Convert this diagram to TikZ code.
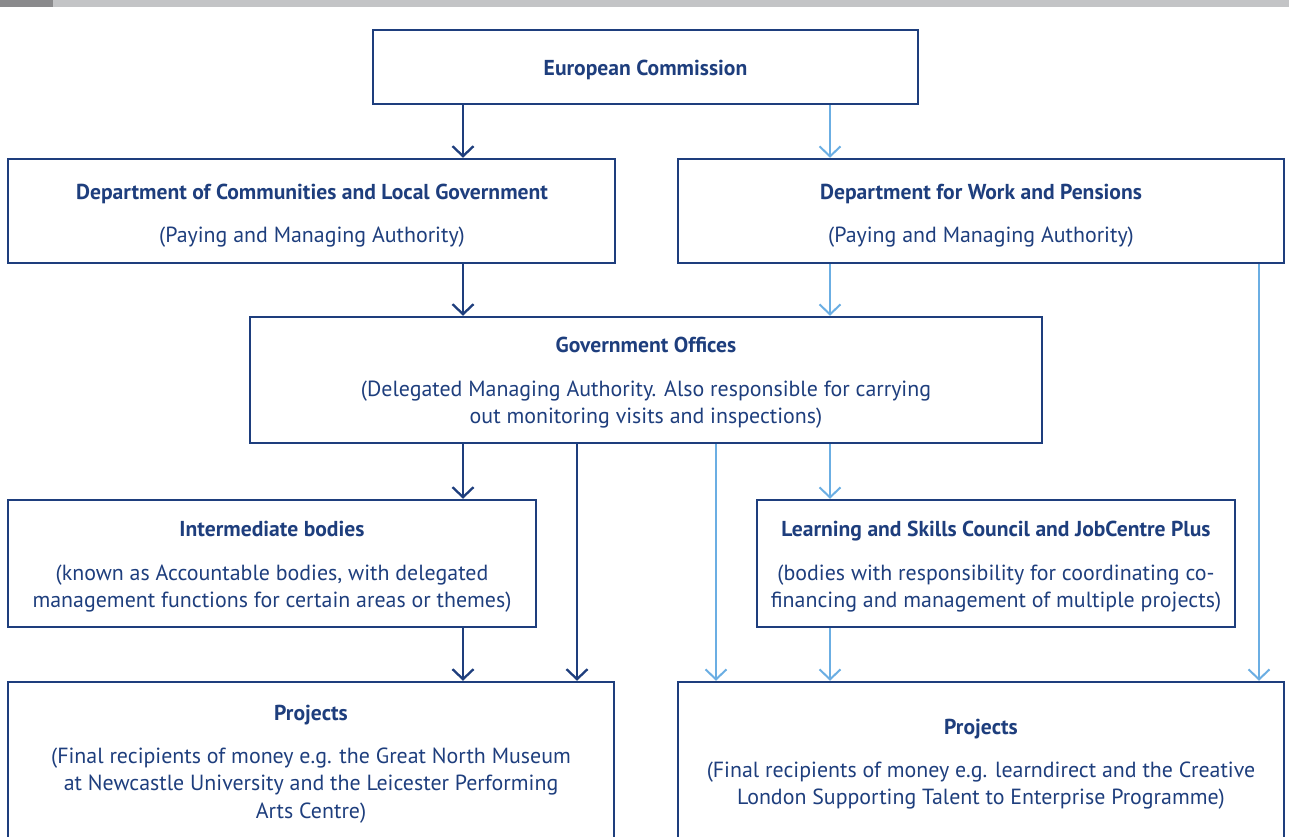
\documentclass[tikz,border=0pt]{standalone}
\usepackage{fontspec}
\setmainfont{PT Sans}
\usetikzlibrary{arrows.meta}
\definecolor{navy}{RGB}{30,62,125}
\definecolor{skyline}{RGB}{107,174,227}
\definecolor{bardark}{RGB}{138,138,140}
\definecolor{barlight}{RGB}{195,196,198}
\tikzset{
  box/.style={draw=navy, line width=2.5pt, inner sep=0pt, fill=none},
  hd/.style={text=navy, anchor=base, inner sep=0pt, font=\fontsize{21.6}{26}\selectfont\bfseries},
  tx/.style={text=navy, anchor=base, inner sep=0pt, font=\fontsize{21.9}{26}\selectfont},
  darr/.style={draw=navy, line width=2.3pt, -{Straight Barb[length=10pt,width=21pt,line width=2.3pt]}},
  larr/.style={draw=skyline, line width=2pt, -{Straight Barb[length=10pt,width=21pt,line width=2pt]}},
}
\begin{document}
\begin{tikzpicture}[x=1pt,y=-1pt]
\useasboundingbox (0,0) rectangle (1289,837);
\clip (0,0) rectangle (1289,837);
% header strip
\fill[bardark] (0,0) rectangle (53,7);
\fill[barlight] (53,0) rectangle (1289,7);

% boxes
\node[box, minimum width=545pt, minimum height=74pt] (ec) at (645.5,67) {};
\node[box, minimum width=607pt, minimum height=104pt] (dclg) at (311.5,211) {};
\node[box, minimum width=606pt, minimum height=104pt] (dwp) at (981,211) {};
\node[box, minimum width=792pt, minimum height=126pt] (gov) at (646,380) {};
\node[box, minimum width=528pt, minimum height=127pt] (ib) at (272,563.5) {};
\node[box, minimum width=478pt, minimum height=127pt] (lsc) at (996,563.5) {};
\node[box, minimum width=606pt, minimum height=188pt] (pl) at (311,776) {};
\node[box, minimum width=606pt, minimum height=188pt] (pr) at (981,776) {};

% texts
\node[hd] (ect) at (645.5,76) {European Commission};

\node[hd] (dclgt) at (312,199) {Department of Communities and Local Government};
\node[tx] (dclgs) at (312,242) {(Paying and Managing Authority)};

\node[hd] (dwpt) at (981,199) {Department for Work and Pensions};
\node[tx] (dwps) at (981,242) {(Paying and Managing Authority)};

\node[hd] (govt) at (646,352) {Government Offices};
\node[tx] (govs1) at (646,396) {(Delegated Managing Authority. Also responsible for carrying};
\node[tx] (govs2) at (646,423) {out monitoring visits and inspections)};

\node[hd] (ibt) at (272,536) {Intermediate bodies};
\node[tx] (ibs1) at (272,580) {(known as Accountable bodies, with delegated};
\node[tx] (ibs2) at (272,607) {management functions for certain areas or themes)};

\node[hd] (lsct) at (996,536) {Learning and Skills Council and JobCentre Plus};
\node[tx] (lscs1) at (996,580) {(bodies with responsibility for coordinating co-};
\node[tx] (lscs2) at (996,607) {financing and management of multiple projects)};

\node[hd] (plt) at (311,720) {Projects};
\node[tx] (pls1) at (311,763) {(Final recipients of money e.g. the Great North Museum};
\node[tx] (pls2) at (311,790) {at Newcastle University and the Leicester Performing};
\node[tx] (pls3) at (311,818) {Arts Centre)};

\node[hd] (prt) at (981,734) {Projects};
\node[tx] (prs1) at (981,777) {(Final recipients of money e.g. learndirect and the Creative};
\node[tx] (prs2) at (981,804) {London Supporting Talent to Enterprise Programme)};

% connector columns
\coordinate (ca) at (463,0);
\coordinate (cb) at (577,0);
\coordinate (cc) at (716,0);
\coordinate (cd) at (830,0);
\coordinate (ce) at (1259,0);

% dark (DCLG) flow
\draw[darr] (ec.south -| ca) -- (dclg.north -| ca);
\draw[darr] (dclg.south -| ca) -- (gov.north -| ca);
\draw[darr] (gov.south -| ca) -- (ib.north -| ca);
\draw[darr] (ib.south -| ca) -- (pl.north -| ca);
\draw[darr] (gov.south -| cb) -- (pl.north -| cb);

% light (DWP) flow
\draw[larr] (ec.south -| cd) -- (dwp.north -| cd);
\draw[larr] (dwp.south -| cd) -- (gov.north -| cd);
\draw[larr] (gov.south -| cd) -- (lsc.north -| cd);
\draw[larr] (lsc.south -| cd) -- (pr.north -| cd);
\draw[larr] (gov.south -| cc) -- (pr.north -| cc);
\draw[larr] (dwp.south -| ce) -- (pr.north -| ce);
\end{tikzpicture}
\end{document}
